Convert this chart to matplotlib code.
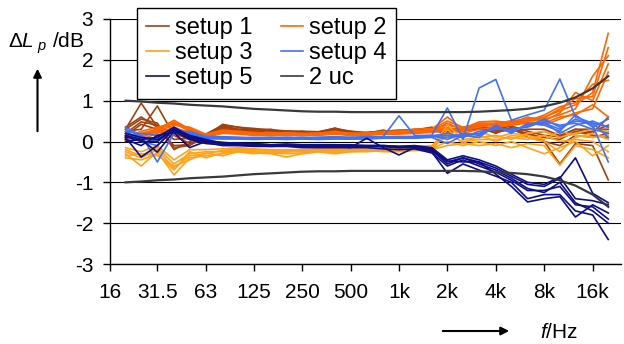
import matplotlib.pyplot as plt
from matplotlib.lines import Line2D

plt.rcParams['font.family'] = ['Liberation Sans', 'DejaVu Sans']
plt.rcParams['mathtext.fontset'] = 'custom'
plt.rcParams['mathtext.rm'] = 'Liberation Sans'
plt.rcParams['mathtext.it'] = 'Liberation Sans:italic'

# third-octave band centres, Hz
freqs = [20, 25, 31.5, 40, 50, 63, 80, 100, 125, 160, 200, 250, 315, 400, 500,
         630, 800, 1000, 1250, 1600, 2000, 2500, 3150, 4000, 5000, 6300, 8000,
         10000, 12500, 16000, 20000]

tick_freqs = [16, 31.5, 63, 125, 250, 500, 1000, 2000, 4000, 8000, 16000]
tick_labels = ["16", "31.5", "63", "125", "250", "500", "1k", "2k", "4k", "8k", "16k"]

# level differences in dB, one row per measurement
setup1 = [
    [0.30, 0.94, 0.35, 0.20, 0.05, 0.15, 0.38, 0.30, 0.30, 0.28, 0.25, 0.22, 0.22, 0.33, 0.22, 0.18, 0.22, 0.25, 0.30, 0.30, 0.28, 0.32, 0.35, 0.30, 0.38, 0.25, 0.15, 0.12, 0.30, 0.20, 0.60],
    [0.25, 0.30, 0.87, 0.15, -0.05, 0.10, 0.42, 0.35, 0.28, 0.30, 0.20, 0.25, 0.20, 0.30, 0.25, 0.20, 0.28, 0.20, 0.28, 0.35, 0.25, 0.35, 0.40, 0.25, 0.30, 0.20, 0.00, -0.55, -0.05, -0.10, -0.94],
    [0.30, 0.55, 0.45, -0.15, -0.10, 0.15, 0.35, 0.30, 0.25, 0.22, 0.25, 0.20, 0.18, 0.28, 0.20, 0.22, 0.25, 0.22, 0.25, 0.28, 0.30, 0.28, 0.30, 0.35, 0.30, 0.15, 0.25, 0.10, 0.20, 0.25, 0.40],
    [0.20, 0.48, 0.40, -0.20, 0.00, 0.12, 0.30, 0.28, 0.30, 0.25, 0.22, 0.24, 0.20, 0.30, 0.22, 0.20, 0.22, 0.25, 0.22, 0.30, 0.25, 0.25, 0.35, 0.20, 0.35, 0.10, 0.00, -0.10, 0.15, 0.10, 0.20],
    [0.35, 0.60, 0.35, 0.05, 0.08, 0.18, 0.40, 0.35, 0.32, 0.28, 0.26, 0.25, 0.24, 0.32, 0.25, 0.22, 0.25, 0.28, 0.28, 0.33, 0.30, 0.30, 0.38, 0.28, 0.25, 0.30, 0.30, 0.15, 0.30, 0.30, 0.30],
    [0.15, 0.42, 0.30, -0.10, -0.08, 0.08, 0.32, 0.25, 0.25, 0.20, 0.20, 0.20, 0.18, 0.25, 0.18, 0.18, 0.20, 0.20, 0.25, 0.25, 0.22, 0.28, 0.32, 0.22, 0.32, 0.18, 0.10, 0.05, 0.25, 0.15, 0.10],
]
setup2 = [
    [0.05, 0.20, 0.30, 0.52, 0.30, 0.15, 0.25, 0.22, 0.20, 0.18, 0.20, 0.18, 0.20, 0.22, 0.18, 0.20, 0.22, 0.25, 0.25, 0.30, 0.60, 0.30, 0.45, 0.45, 0.50, 0.55, 0.60, 0.75, 0.90, 1.20, 2.65],
    [0.10, 0.25, 0.35, 0.45, 0.25, 0.12, 0.22, 0.20, 0.18, 0.20, 0.18, 0.15, 0.18, 0.20, 0.15, 0.18, 0.20, 0.22, 0.22, 0.28, 0.35, 0.25, 0.40, 0.40, 0.45, 0.50, 0.55, 0.65, 0.80, 1.60, 2.10],
    [0.00, 0.10, 0.25, 0.40, 0.35, 0.18, 0.28, 0.25, 0.22, 0.20, 0.22, 0.20, 0.20, 0.25, 0.20, 0.20, 0.25, 0.25, 0.30, 0.32, 0.40, 0.32, 0.48, 0.50, 0.45, 0.60, 0.50, 0.70, 1.20, 1.00, 1.90],
    [0.12, 0.05, 0.20, 0.35, 0.20, 0.10, 0.20, 0.18, 0.15, 0.15, 0.15, 0.15, 0.15, 0.18, 0.15, 0.15, 0.18, 0.18, 0.20, 0.22, 0.30, 0.20, 0.30, 0.35, 0.40, 0.45, 0.40, 0.55, 0.70, 0.80, 1.70],
    [0.08, 0.15, 0.28, 0.48, 0.28, 0.15, 0.25, 0.22, 0.20, 0.18, 0.20, 0.18, 0.20, 0.22, 0.20, 0.20, 0.22, 0.22, 0.25, 0.25, 0.45, 0.28, 0.35, 0.45, 0.50, 0.50, 0.65, 0.85, 0.95, 1.40, 1.50],
    [0.02, 0.18, 0.22, 0.30, 0.25, 0.12, 0.22, 0.20, 0.18, 0.18, 0.18, 0.18, 0.18, 0.20, 0.18, 0.18, 0.20, 0.20, 0.22, 0.25, 0.32, 0.25, 0.38, 0.38, 0.42, 0.48, 0.45, 0.60, 0.65, 0.90, 0.60],
    [0.06, 0.12, 0.32, 0.42, 0.32, 0.16, 0.24, 0.24, 0.20, 0.22, 0.20, 0.18, 0.20, 0.22, 0.18, 0.20, 0.22, 0.24, 0.24, 0.30, 0.50, 0.35, 0.42, 0.42, 0.48, 0.55, 0.58, 0.80, 1.05, 1.10, 2.30],
]
setup3 = [
    [-0.20, -0.35, -0.15, -0.55, -0.30, -0.25, -0.25, -0.20, -0.22, -0.25, -0.22, -0.25, -0.20, -0.22, -0.20, -0.22, -0.20, -0.18, -0.15, -0.15, 0.40, 0.05, 0.10, 0.15, 0.05, 0.20, 0.25, 0.10, 0.20, 0.30, 0.25],
    [-0.30, -0.60, -0.25, -0.82, -0.40, -0.35, -0.30, -0.25, -0.28, -0.30, -0.38, -0.30, -0.25, -0.30, -0.25, -0.25, -0.22, -0.22, -0.20, -0.20, -0.10, -0.05, -0.10, -0.05, -0.15, -0.05, -0.10, -0.58, -0.10, -0.20, -0.40],
    [-0.15, -0.25, -0.10, -0.45, -0.20, -0.20, -0.18, -0.15, -0.18, -0.20, -0.20, -0.20, -0.18, -0.18, -0.15, -0.18, -0.15, -0.15, -0.12, -0.10, 0.20, 0.10, 0.25, 0.10, 0.20, 0.15, 0.05, 0.25, 0.15, 0.10, 0.15],
    [-0.40, -0.45, -0.30, -0.70, -0.25, -0.40, -0.28, -0.22, -0.25, -0.28, -0.30, -0.28, -0.22, -0.25, -0.22, -0.22, -0.20, -0.20, -0.18, -0.18, 0.00, -0.10, 0.00, -0.10, 0.00, -0.15, -0.30, -0.15, 0.00, -0.35, -0.10],
    [-0.25, -0.40, -0.20, -0.65, -0.35, -0.30, -0.22, -0.18, -0.20, -0.22, -0.25, -0.22, -0.20, -0.20, -0.18, -0.20, -0.18, -0.18, -0.15, -0.15, 0.15, 0.00, 0.05, 0.05, 0.10, 0.05, 0.15, 0.00, 0.05, 0.00, -0.25],
    [-0.35, -0.30, -0.35, -0.60, -0.45, -0.28, -0.35, -0.25, -0.30, -0.25, -0.28, -0.30, -0.25, -0.28, -0.25, -0.22, -0.25, -0.25, -0.22, -0.22, 0.30, -0.05, 0.15, 0.00, 0.15, 0.10, 0.00, -0.25, 0.10, 0.20, 0.05],
]
setup4 = [
    [0.15, 0.10, 0.00, 0.30, 0.20, 0.10, 0.10, 0.08, 0.08, 0.08, 0.10, 0.08, 0.10, 0.10, 0.08, 0.10, 0.12, 0.63, 0.15, 0.15, 0.82, 0.05, 1.31, 1.52, 0.52, 0.65, 0.77, 1.53, 0.60, 0.45, 0.35],
    [0.35, 0.15, -0.50, 0.20, 0.25, 0.12, 0.10, 0.10, 0.08, 0.10, 0.08, 0.10, 0.08, 0.10, 0.10, 0.10, 0.10, 0.12, 0.12, 0.15, 0.05, 0.20, 0.15, 0.35, 0.25, 0.40, 0.45, 0.30, 0.55, 0.40, -0.50],
    [0.25, 0.05, 0.10, 0.35, 0.18, 0.10, 0.08, 0.08, 0.06, 0.08, 0.06, 0.08, 0.06, 0.08, 0.08, 0.08, 0.08, 0.10, 0.10, 0.12, 0.15, 0.10, 0.25, 0.30, 0.30, 0.35, 0.50, 0.40, 0.45, 0.30, 0.20],
    [0.10, 0.20, 0.15, 0.28, 0.22, 0.08, 0.06, 0.06, 0.05, 0.06, 0.05, 0.06, 0.05, 0.06, 0.06, 0.06, 0.08, 0.08, 0.08, 0.10, -0.05, 0.15, 0.10, 0.40, 0.20, 0.45, 0.40, 0.25, 0.65, 0.35, 0.55],
    [0.20, 0.00, -0.10, 0.32, 0.15, 0.12, 0.12, 0.10, 0.10, 0.10, 0.10, 0.10, 0.10, 0.12, 0.10, 0.12, 0.12, 0.12, 0.12, 0.14, 0.20, 0.12, 0.20, 0.32, 0.28, 0.38, 0.55, 0.35, 0.50, 0.45, 0.10],
    [0.30, 0.12, 0.05, 0.25, 0.20, 0.06, 0.08, 0.08, 0.08, 0.06, 0.08, 0.06, 0.08, 0.08, 0.06, 0.08, 0.10, 0.10, 0.10, 0.12, 0.10, 0.18, 0.18, 0.38, 0.22, 0.42, 0.48, 0.20, 0.40, 0.50, 0.35],
]
setup5 = [
    [0.10, -0.38, -0.10, 0.30, 0.10, 0.00, -0.05, -0.05, -0.08, -0.10, -0.08, -0.10, -0.12, -0.10, -0.10, -0.12, -0.12, -0.15, -0.12, -0.20, -0.50, -0.40, -0.50, -0.65, -0.85, -1.05, -1.10, -0.90, -0.40, -1.27, -1.50],
    [0.15, 0.05, -0.26, 0.25, 0.05, -0.05, -0.08, -0.08, -0.10, -0.12, -0.10, -0.12, -0.10, -0.12, -0.15, 0.08, -0.15, -0.33, -0.15, -0.25, -0.78, -0.55, -0.70, -0.85, -1.00, -1.40, -1.30, -1.30, -1.70, -1.80, -2.40],
    [0.00, 0.05, 0.10, 0.35, 0.12, 0.02, -0.02, -0.05, -0.05, -0.08, -0.08, -0.08, -0.08, -0.08, -0.10, -0.10, -0.10, -0.12, -0.10, -0.15, -0.45, -0.35, -0.45, -0.60, -0.80, -1.00, -1.05, -0.87, -1.40, -1.45, -1.55],
    [0.20, 0.10, 0.05, 0.28, 0.08, -0.02, -0.10, -0.10, -0.12, -0.12, -0.12, -0.15, -0.15, -0.15, -0.15, -0.15, -0.18, -0.20, -0.18, -0.28, -0.60, -0.45, -0.60, -0.75, -0.95, -1.20, -1.20, -1.10, -1.55, -1.60, -1.90],
    [0.05, -0.10, 0.15, 0.22, -0.15, 0.00, -0.05, -0.06, -0.08, -0.10, -0.10, -0.10, -0.10, -0.12, -0.12, -0.12, -0.12, -0.15, -0.14, -0.22, -0.55, -0.40, -0.55, -0.70, -0.90, -1.15, -1.25, -1.00, -1.50, -1.70, -2.00],
    [0.12, 0.00, 0.00, 0.32, 0.15, 0.05, -0.04, -0.04, -0.06, -0.08, -0.06, -0.08, -0.08, -0.08, -0.08, -0.10, -0.10, -0.12, -0.12, -0.18, -0.48, -0.50, -0.50, -0.80, -1.10, -1.48, -1.40, -1.35, -1.85, -1.55, -1.75],
]
# expanded uncertainty bounds
uc_upper = [1.00, 0.98, 0.95, 0.93, 0.90, 0.88, 0.86, 0.83, 0.80, 0.78, 0.76, 0.74, 0.73, 0.73, 0.72, 0.72, 0.72, 0.72, 0.72, 0.72, 0.72, 0.72, 0.73, 0.75, 0.77, 0.80, 0.86, 0.95, 1.08, 1.30, 1.60]
uc_lower = [-1.00, -0.98, -0.95, -0.93, -0.90, -0.88, -0.86, -0.83, -0.80, -0.78, -0.76, -0.74, -0.73, -0.73, -0.72, -0.72, -0.72, -0.72, -0.72, -0.72, -0.72, -0.72, -0.73, -0.75, -0.77, -0.80, -0.86, -0.95, -1.08, -1.30, -1.60]

colors = {"setup 1": "#A3410E", "setup 2": "#FF6600", "setup 3": "#FFA21A",
          "setup 4": "#4272F2", "setup 5": "#0D0D85", "2 uc": "#3A3A3A"}

fig = plt.figure(figsize=(6.24, 3.44), dpi=100)
ax = fig.add_axes([110/624, 80/344, 511/624, 245/344])

for name, rows in [("setup 1", setup1), ("setup 2", setup2), ("setup 3", setup3),
                   ("setup 4", setup4), ("setup 5", setup5)]:
    for r in rows:
        ax.plot(freqs, r, color=colors[name], lw=1.2)
ax.plot(freqs, uc_upper, color=colors["2 uc"], lw=1.6)
ax.plot(freqs, uc_lower, color=colors["2 uc"], lw=1.6)

ax.set_xscale('log', base=2)
ax.set_xlim(16, 24000)
ax.set_ylim(-3, 3)
ax.set_xticks(tick_freqs)
ax.set_xticklabels(tick_labels)
ax.minorticks_off()
ax.set_yticks([-3, -2, -1, 0, 1, 2, 3])
ax.set_yticklabels(["-3", "-2", "-1", "0", "1", "2", "3"])
ax.grid(axis='y', color='black', lw=0.8)
ax.set_axisbelow(True)
for s in ['top', 'right']:
    ax.spines[s].set_visible(False)
ax.spines['left'].set_linewidth(1)
ax.spines['bottom'].set_linewidth(1)
ax.tick_params(axis='both', direction='out', length=5, width=1, labelsize=15)
ax.tick_params(axis='y', pad=7)
ax.tick_params(axis='x', pad=9)

# legend: rows are (1,2), (3,4), (5,uc)
order = ["setup 1", "setup 3", "setup 5", "setup 2", "setup 4", "2 uc"]
handles = [Line2D([], [], color=colors[n], lw=1.2) for n in order]
fig.legend(handles, order, ncol=2, loc='upper left',
           bbox_to_anchor=(137/624, 1 - 8/344), fontsize=17,
           frameon=True, fancybox=False, framealpha=1, edgecolor='black',
           handlelength=0.95, handletextpad=0.25, columnspacing=1.2,
           labelspacing=0.12, borderpad=0.4, borderaxespad=0)

fig.text(8/624, 1 - 43/344, r'$\Delta \mathit{L}_{\ \mathit{p}}$ /dB', fontsize=15,
         ha='left', va='center')
ax.annotate('', xy=(37.5/624, 1 - 66/344), xytext=(37.5/624, 1 - 134/344),
            xycoords='figure fraction',
            arrowprops=dict(arrowstyle='-|>', color='black', lw=1.5, mutation_scale=12))
fig.text(540/624, 1 - 333/344, r'$\mathit{f}$/Hz', fontsize=15, ha='left', va='center')
ax.annotate('', xy=(512/624, 1 - 331/344), xytext=(440/624, 1 - 331/344),
            xycoords='figure fraction',
            arrowprops=dict(arrowstyle='-|>', color='black', lw=1.5, mutation_scale=12))

fig.savefig('out.png', dpi=100)
